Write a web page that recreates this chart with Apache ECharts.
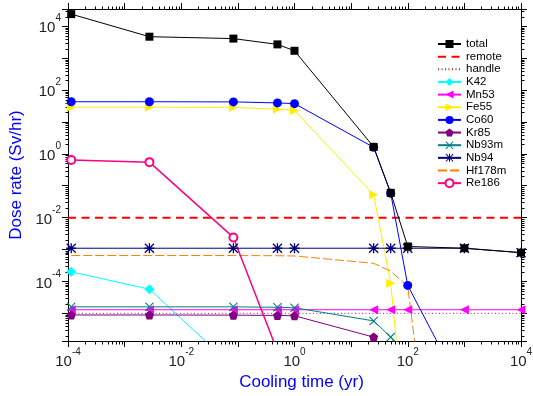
<!DOCTYPE html>
<html><head><meta charset="utf-8">
<script src="https://cdn.jsdelivr.net/npm/echarts@6/dist/echarts.min.js"></script>
<style>html,body{margin:0;padding:0;background:#fff}#c{width:533px;height:396px}</style>
</head><body><div id="c"></div>
<script>
// Cooling times (yr): 1 h, 1 d, 1 mo, 0.5 y, 1 y, 25 y, 50 y, 100 y, 1000 y, 10000 y
const times  = [1.14e-4, 2.74e-3, 0.0833, 0.5, 1, 25, 50, 100, 1000, 10000];
const total  = [2.4e4, 4.7e3, 4.1e3, 2.7e3, 1.7e3, 1.65, 0.06, 1.25e-3, 1.1e-3, 8.0e-4];
const K42    = [2.0e-4, 5.7e-5, 2.1e-7, null, null, null, null, null, null, null];
const Mn53   = [1.3e-5, 1.3e-5, 1.3e-5, 1.3e-5, 1.3e-5, 1.3e-5, 1.3e-5, 1.3e-5, 1.3e-5, 1.3e-5];
const Fe55   = [29, 29, 28.5, 25, 23, 0.052, 8.8e-5, 3e-10, null, null];
const Co60   = [43, 43, 42.5, 39.5, 37.5, 1.6, 0.058, 7.5e-5, 3e-8, null];
const Kr85   = [8.9e-6, 8.9e-6, 8.8e-6, 8.6e-6, 8.4e-6, 1.8e-6, 3.5e-7, null, null, null];
const Nb93m  = [1.6e-5, 1.6e-5, 1.6e-5, 1.55e-5, 1.5e-5, 5.8e-6, 1.8e-6, 3e-7, null, null];
const Nb94   = [1.1e-3, 1.1e-3, 1.1e-3, 1.1e-3, 1.1e-3, 1.1e-3, 1.1e-3, 1.1e-3, 1.1e-3, 8.0e-4];
const Hf178m = [6.5e-4, 6.5e-4, 6.5e-4, 6.4e-4, 6.3e-4, 3.7e-4, 2.1e-4, 7e-5, 4e-19, null];
const Re186  = [0.64, 0.55, 2.4e-3, 6.5e-7, null, null, null, null, null, null];
// Limits
const limitTimes = [1e-4, 1e4];
const remote = [1e-2, 1e-2];
const handle = [1e-5, 1e-5];
// Axis ranges
const X_MIN = 1e-4, X_MAX = 1e4;
const Y_MIN = 1.36e-6, Y_MAX = 3.47e4;
const xMinorDecades = [-4, -3, -2, -1, 0, 1, 2, 3];
const yMinorDecades = [-6, -5, -4, -3, -2, -1, 0, 1, 2, 3, 4];
const legendNames = ['total','remote','handle','K42','Mn53','Fe55','Co60','Kr85','Nb93m','Nb94','Hf178m','Re186'];

const FONT = 'Liberation Sans, Arial, sans-serif';
const L = Math.log10;
const yMinL = L(Y_MIN), yMaxL = L(Y_MAX);

function pts(xs, ys) {
  return xs.map((x, i) => [x, ys[i] == null ? null : L(ys[i])]);
}

const STAR = 'path://M8.7,0H11.3V20H8.7Z M0,8.7H20V11.3H0Z M1.8,0L20,18.2L18.2,20L0,1.8Z M18.2,0L20,1.8L1.8,20L0,18.2Z';
const XMARK = 'path://M1.7,0L20,18.3L18.3,20L0,1.7Z M18.3,0L20,1.7L1.7,20L0,18.3Z';
const PENT = 'path://M10,0L19.51,6.91L15.88,18.09L4.12,18.09L0.49,6.91Z';

function lineSeries(name, ys, color, symbol, size, extra) {
  return Object.assign({
    name, type: 'line', data: pts(times, ys), symbol, symbolSize: size,
    lineStyle: { color, width: 1 }, itemStyle: { color },
    connectNulls: false, z: 2
  }, extra || {});
}
// line without markers (marker kept invisible so the legend shows only the line)
function plainSeries(name, xs, ys, color, width, dash) {
  return {
    name, type: 'line', data: pts(xs, ys), symbol: 'circle', symbolSize: 1, showSymbol: false,
    lineStyle: { color, width, type: dash }, itemStyle: { color, opacity: 0 }, z: 2
  };
}

const rich = {
  b: { fontSize: 15, fontFamily: FONT, color: '#222', verticalAlign: 'bottom', lineHeight: 22 },
  s: { fontSize: 10, fontFamily: FONT, color: '#222', verticalAlign: 'top', lineHeight: 10 }
};

function yLabel(v) {
  const n = Math.round(v);
  if (Math.abs(v - n) > 1e-6 || n % 2 !== 0) return '';
  return '{b|10}{s|' + n + '}';
}
function xLabel(v) {
  const e = L(v); const n = Math.round(e);
  if (Math.abs(e - n) > 1e-6 || n % 2 !== 0) return '';
  return '{b|10}{s|' + n + '}';
}

const axisLine = { show: true, onZero: false, lineStyle: { color: '#000', width: 1 } };
const axisTick = { show: true, inside: false, length: 6, lineStyle: { color: '#000', width: 1 } };

const chart = echarts.init(document.getElementById('c'), null, { renderer: 'canvas' });
chart.setOption({
  animation: false,
  backgroundColor: '#fff',
  grid: { left: 68, right: 12, top: 9, bottom: 55, containLabel: false, outerBoundsMode: 'none' },
  xAxis: [
    { type: 'log', logBase: 10, min: X_MIN, max: X_MAX, position: 'bottom',
      axisLine, axisTick, splitLine: { show: false },
      axisLabel: { formatter: xLabel, rich, margin: 6, showMinLabel: true, showMaxLabel: true },
      name: 'Cooling time (yr)', nameLocation: 'middle', nameGap: 33,
      nameTextStyle: { color: '#0000ff', fontSize: 17, fontFamily: FONT, padding: [0, 0, 0, 14] } },
    { type: 'log', logBase: 10, min: X_MIN, max: X_MAX, position: 'top',
      axisLine, axisTick, splitLine: { show: false }, axisLabel: { show: false } }
  ],
  yAxis: [
    { type: 'value', min: yMinL, max: yMaxL, splitNumber: 10, position: 'left',
      axisLine, axisTick, splitLine: { show: false },
      axisLabel: { formatter: yLabel, rich, margin: 7, padding: [0, 0, 3, 0], showMinLabel: true, showMaxLabel: true },
      name: 'Dose rate (Sv/hr)', nameLocation: 'middle', nameGap: 40,
      nameTextStyle: { color: '#0000ff', fontSize: 17, fontFamily: FONT } },
    { type: 'value', min: yMinL, max: yMaxL, splitNumber: 10, position: 'right',
      axisLine, axisTick, splitLine: { show: false }, axisLabel: { show: false } }
  ],
  legend: {
    orient: 'vertical', left: 437, top: 38, padding: 0,
    itemWidth: 23, itemHeight: 10, itemGap: 0.65,
    textStyle: { fontSize: 11.5, color: '#000', fontFamily: FONT },
    data: legendNames
  },
  series: [
    {
      type: 'custom', coordinateSystem: 'cartesian2d', clip: false, silent: true, z: 1,
      data: [[1, 0]],
      renderItem: function (params, api) {
        const children = [];
        const left = Math.round(api.coord([X_MIN, 0])[0]) + 0.5;
        const right = Math.round(api.coord([X_MAX, 0])[0]) + 0.5;
        const bottom = Math.round(api.coord([1, yMinL])[1]) + 0.5;
        const top = Math.round(api.coord([1, yMaxL])[1]) + 0.5;
        const st = { stroke: '#000', lineWidth: 1 };
        xMinorDecades.forEach(n => {
          for (let k = 2; k <= 9; k++) {
            const px = Math.round(api.coord([k * Math.pow(10, n), 0])[0]) + 0.5;
            children.push({ type: 'line', shape: { x1: px, y1: bottom, x2: px, y2: bottom + 3 }, style: st });
            children.push({ type: 'line', shape: { x1: px, y1: top, x2: px, y2: top - 3 }, style: st });
          }
        });
        yMinorDecades.forEach(n => {
          for (let k = 2; k <= 9; k++) {
            const e = n + L(k);
            if (e <= yMinL || e >= yMaxL) continue;
            const py = Math.round(api.coord([1, e])[1]) + 0.5;
            children.push({ type: 'line', shape: { x1: left, y1: py, x2: left - 3, y2: py }, style: st });
            children.push({ type: 'line', shape: { x1: right, y1: py, x2: right + 3, y2: py }, style: st });
          }
        });
        return { type: 'group', children };
      }
    },
    lineSeries('total', total, '#000000', 'rect', 8, { z: 4 }),
    plainSeries('remote', limitTimes, remote, '#ff0000', 2, [8, 5.5]),
    plainSeries('handle', limitTimes, handle, '#993333', 1, [1, 2.5]),
    lineSeries('K42', K42, '#00ffff', 'diamond', 10),
    lineSeries('Mn53', Mn53, '#ff00ff', 'triangle', 9, { symbolRotate: 90 }),
    lineSeries('Fe55', Fe55, '#ffee00', 'triangle', 9, { symbolRotate: -90 }),
    lineSeries('Co60', Co60, '#0000ff', 'circle', 9),
    lineSeries('Kr85', Kr85, '#800080', PENT, 9),
    lineSeries('Nb93m', Nb93m, '#008080', XMARK, 9),
    lineSeries('Nb94', Nb94, '#000080', STAR, 10),
    plainSeries('Hf178m', times, Hf178m, '#ff8000', 1, [9, 3]),
    lineSeries('Re186', Re186, '#ff0080', 'emptyCircle', 8, { lineStyle: { color: '#ff0080', width: 1.5 } })
  ]
});
</script>
</body></html>
